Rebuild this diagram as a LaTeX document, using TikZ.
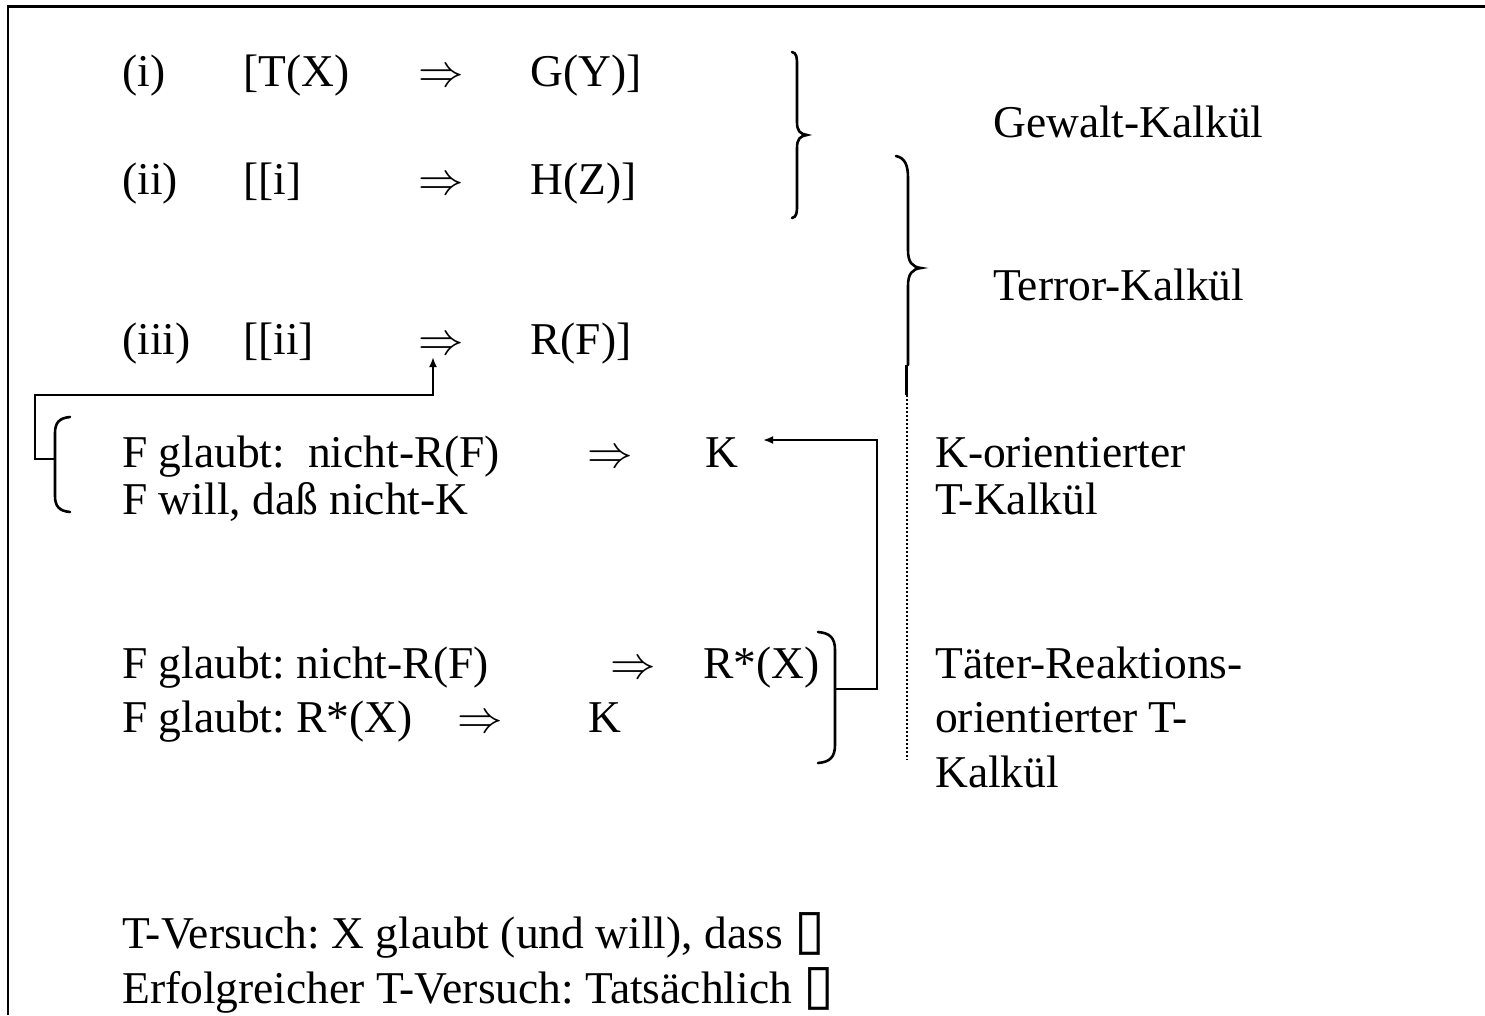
\RequirePackage{fix-cm}
\documentclass[tikz,border=0pt]{standalone}
\usepackage{fontspec}
\setmainfont{Liberation Serif}
\newfontfamily\symfont{DejaVu Sans}
\usetikzlibrary{arrows.meta}
\frenchspacing
\newcommand{\imp}{$\Rightarrow$}
\newcommand{\nbox}{{\symfont\fontsize{56}{60}\selectfont\char"25AF}}
\tikzset{
  txt/.style={anchor=base west, inner sep=0pt, font=\fontsize{45.5}{50}\selectfont},
  bracepath/.style={line width=2.6pt, line cap=round},
  conn/.style={line width=2pt},
  tipped/.style={conn, -{Latex[length=10pt,width=8pt]}},
  framebox/.style={line width=2.2pt}
}
\begin{document}
\begin{tikzpicture}[x=1pt,y=-1pt]
\useasboundingbox (0,0) rectangle (1485,1015);
% frame
\draw[framebox] (8,1015) -- (8,6.5) -- (1485,6.5);
% row (i)
\node[txt] (n1a) at (122,86) {(i)};
\node[txt] (n1b) at (243,86) {[T(X)};
\node[txt] (n1c) at (418,86) {\imp};
\node[txt] (n1d) at (530,86) {G(Y)]};
% row (ii)
\node[txt] (n2a) at (122,194) {(ii)};
\node[txt] (n2b) at (243,194) {[[i]};
\node[txt] (n2c) at (418,194) {\imp};
\node[txt] (n2d) at (530,194) {H(Z)]};
% row (iii)
\node[txt] (n3a) at (122,354) {(iii)};
\node[txt] (n3b) at (243,354) {[[ii]};
\node[txt] (n3c) at (418,354) {\imp};
\node[txt] (n3d) at (530,354) {R(F)]};
% right labels
\node[txt] (gk) at (993,137) {Gewalt-Kalkül};
\node[txt] (tk) at (993,300) {Terror-Kalkül};
% K-oriented block
\node[txt] (f1a) at (122,467) {F glaubt: \ nicht-R(F)};
\node[txt] (f1b) at (587,467) {\imp};
\node[txt] (f1c) at (705,467) {K};
\node[txt] (f2a) at (122,514) {F will, daß nicht-K};
\node[txt] (ko1) at (935,467) {K-orientierter};
\node[txt] (ko2) at (935,514) {T-Kalkül};
% Täter block
\node[txt] (f3a) at (122,678) {F glaubt: nicht-R(F)};
\node[txt] (f3b) at (610,678) {\imp};
\node[txt] (f3c) at (703,678) {R*(X)};
\node[txt] (f4a) at (122,732) {F glaubt: R*(X)};
\node[txt] (f4b) at (457,732) {\imp};
\node[txt] (f4c) at (588,732) {K};
\node[txt] (tr1) at (935,678) {Täter-Reaktions-};
\node[txt] (tr2) at (935,732) {orientierter T-};
\node[txt] (tr3) at (935,787) {Kalkül};
% bottom
\node[txt] (bv1) at (122,948) {T-Versuch: X glaubt (und will), dass \nbox};
\node[txt] (bv2) at (122,1003) {Erfolgreicher T-Versuch: Tatsächlich \nbox};
% brace 1 (Gewalt)
\draw[bracepath] (792,52) .. controls (797,53) and (797,58) .. (797,66) -- (797,122)
  .. controls (797,131) and (800,134) .. (807,135)
  .. controls (800,136) and (797,139) .. (797,148) -- (797,204)
  .. controls (797,212) and (797,217) .. (792,218);
% brace 2 (Terror)
\draw[bracepath] (896,156) .. controls (905,158) and (908,165) .. (908,178) -- (908,250)
  .. controls (908,262) and (912,267) .. (921,268)
  .. controls (912,269) and (908,274) .. (908,286) -- (908,365);
\draw[line width=2.6pt] (906.5,365) -- (906.5,395);
\draw[line width=2pt, dotted] (906.5,395) -- (906.5,760);
% brace 3 (R*(X))
\draw[bracepath] (818,632) .. controls (830,633) and (835,638) .. (835,650) -- (835,745)
  .. controls (835,757) and (830,762) .. (818,763);
% left brace
\draw[bracepath] (70,417) .. controls (59,418) and (55,423) .. (55,433) -- (55,496)
  .. controls (55,506) and (59,511) .. (70,512);
% connector coordinates
\coordinate (lbmid) at (55,459);
\coordinate (lbturn) at (35,395);
\coordinate (tip3) at (433,357);
\coordinate (b3mid) at (834,689);
\coordinate (kturn) at (877,440);
\coordinate (ktip) at (763,440);
% connectors
\draw[tipped] (lbmid) -| (lbturn) -| (tip3);
\draw[tipped] (b3mid) -| (kturn) -- (ktip);
\end{tikzpicture}
\end{document}
